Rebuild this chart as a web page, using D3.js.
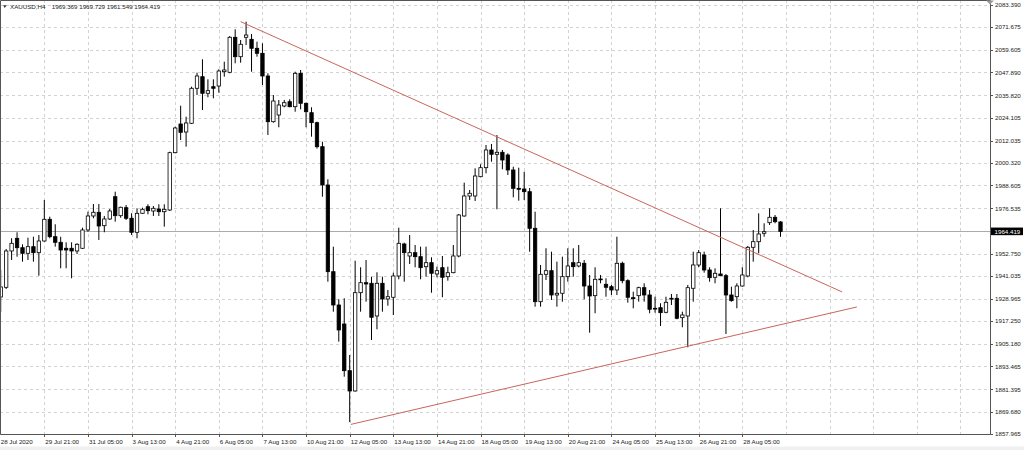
<!DOCTYPE html>
<html>
<head>
<meta charset="utf-8">
<script src="https://cdn.jsdelivr.net/npm/d3@7"></script>
<style>
  html, body { margin: 0; padding: 0; background: #fff; }
  svg { display: block; }
  text { font-family: 'Liberation Sans', Arial, sans-serif; font-size: 6.2px; fill: #222; }
</style>
</head>
<body>
<div id="chart"></div>
<script>
// XAUUSD H4, one entry per bar, oldest first
const opens = [
  1929.95, 1935.04, 1954.11, 1960.78, 1955.84, 1952.90, 1956.37, 1953.22, 1959.36, 1970.76,
  1961.62, 1958.68, 1955.53, 1955.53, 1954.11, 1955.53, 1965.14, 1972.50, 1974.44, 1967.40,
  1970.92, 1982.63, 1972.65, 1976.86, 1971.29, 1963.93, 1973.91, 1977.38, 1975.12, 1976.17,
  1974.75, 1975.65, 2005.75, 2020.82, 2016.62, 2021.19, 2039.58, 2045.67, 2036.95, 2040.42,
  2040.78, 2048.30, 2047.98, 2066.37, 2056.18, 2066.37, 2065.32, 2060.59, 2057.96, 2046.04,
  2022.03, 2025.55, 2030.28, 2032.54, 2029.91, 2047.46, 2031.70, 2026.76, 2021.51, 2008.90,
  1988.78, 1943.24, 1925.74, 1915.76, 1891.23, 1880.57, 1932.20, 1937.46, 1937.14, 1919.97,
  1937.14, 1928.90, 1929.79, 1940.98, 1957.79, 1951.48, 1953.22, 1951.12, 1945.86, 1947.96,
  1942.03, 1945.34, 1940.61, 1942.71, 1951.48, 1972.50, 1983.00, 1983.00, 1993.14, 1997.87,
  2007.17, 2004.91, 2005.96, 2004.54, 1996.66, 1987.05, 1986.68, 1985.26, 1966.03, 1927.48,
  1941.87, 1943.76, 1931.00, 1931.89, 1940.61, 1947.96, 1946.23, 1947.65, 1935.72, 1930.63,
  1939.40, 1936.62, 1935.36, 1933.62, 1947.65, 1938.51, 1929.58, 1930.63, 1934.83, 1931.00,
  1924.01, 1924.32, 1921.91, 1929.26, 1929.26, 1919.07, 1919.97, 1934.52, 1946.76, 1952.01,
  1944.13, 1940.29, 1942.03, 1941.13, 1931.00, 1930.10, 1935.72, 1940.98, 1956.05, 1958.99,
  1963.41, 1968.98, 1971.81, 1969.369
];
const highs = [
  1944.13, 1955.16, 1960.78, 1963.93, 1957.63, 1961.10, 1961.62, 1962.51, 1980.90, 1972.13,
  1968.14, 1961.62, 1958.68, 1958.68, 1958.15, 1966.35, 1974.75, 1978.80, 1978.80, 1972.50,
  1976.17, 1985.26, 1977.38, 1978.27, 1973.91, 1976.54, 1976.86, 1978.64, 1977.75, 1978.64,
  1978.64, 2006.27, 2019.40, 2030.44, 2024.66, 2040.42, 2047.77, 2054.81, 2044.30, 2044.30,
  2049.56, 2053.55, 2067.05, 2070.57, 2064.95, 2074.56, 2068.10, 2064.05, 2063.21, 2047.46,
  2036.06, 2033.43, 2033.43, 2033.80, 2048.30, 2049.19, 2032.01, 2029.60, 2022.03, 2011.52,
  1991.77, 1956.37, 1928.74, 1929.26, 1899.48, 1949.01, 1945.55, 1949.38, 1940.61, 1942.92,
  1940.61, 1933.62, 1942.71, 1966.35, 1958.47, 1962.51, 1957.26, 1956.37, 1956.37, 1950.80,
  1945.86, 1951.48, 1945.86, 1957.26, 1973.55, 1989.99, 1986.15, 1997.55, 1999.65, 2009.79,
  2010.32, 2015.04, 2007.17, 2005.43, 1998.39, 1997.87, 1995.77, 1987.20, 1974.75, 1946.76,
  1955.53, 1953.74, 1948.49, 1951.12, 1955.53, 1955.53, 1957.26, 1949.38, 1941.50, 1945.55,
  1941.50, 1939.77, 1936.25, 1961.62, 1948.49, 1939.24, 1932.73, 1935.36, 1937.14, 1933.62,
  1930.10, 1926.64, 1930.10, 1931.52, 1931.52, 1922.22, 1936.25, 1953.74, 1954.63, 1953.74,
  1945.55, 1945.02, 1976.54, 1942.03, 1935.36, 1937.14, 1945.55, 1956.74, 1965.14, 1973.91,
  1968.66, 1976.54, 1973.02, 1969.729
];
const lows = [
  1922.07, 1934.15, 1949.38, 1951.12, 1948.49, 1949.38, 1948.49, 1941.13, 1958.99, 1960.78,
  1956.37, 1945.02, 1945.02, 1939.77, 1952.53, 1955.16, 1964.25, 1971.29, 1959.89, 1963.93,
  1970.39, 1969.50, 1971.60, 1970.39, 1962.51, 1960.78, 1973.55, 1973.39, 1972.50, 1972.50,
  1966.87, 1975.12, 2005.43, 2012.42, 2008.90, 2020.82, 2036.06, 2028.18, 2034.85, 2034.32,
  2037.26, 2045.67, 2047.46, 2052.71, 2053.02, 2062.32, 2048.30, 2056.18, 2041.31, 2015.04,
  2021.51, 2019.09, 2029.60, 2029.60, 2027.28, 2028.54, 2019.09, 2014.15, 2007.90, 1982.63,
  1937.98, 1922.22, 1906.47, 1888.08, 1864.20, 1880.20, 1922.22, 1927.48, 1907.36, 1912.98,
  1922.22, 1925.38, 1920.49, 1939.24, 1937.98, 1947.28, 1945.55, 1939.24, 1940.61, 1932.20,
  1940.29, 1929.79, 1938.51, 1942.40, 1950.80, 1972.13, 1980.90, 1980.37, 1992.82, 1994.93,
  2001.02, 1976.01, 1997.03, 1994.03, 1982.32, 1980.53, 1980.90, 1953.74, 1924.85, 1924.85,
  1938.88, 1928.37, 1924.85, 1927.48, 1937.98, 1940.61, 1945.55, 1928.74, 1911.19, 1921.38,
  1937.14, 1930.10, 1931.00, 1931.00, 1937.14, 1926.95, 1924.01, 1927.48, 1927.48, 1921.38,
  1921.70, 1914.71, 1921.38, 1925.74, 1918.23, 1914.03, 1903.52, 1927.48, 1945.55, 1942.71,
  1937.98, 1937.14, 1940.98, 1910.51, 1927.48, 1924.01, 1935.36, 1940.29, 1948.49, 1952.90,
  1961.62, 1967.77, 1968.66, 1961.549
];
const closes = [
  1935.20, 1954.11, 1958.15, 1955.84, 1952.90, 1956.37, 1953.22, 1959.36, 1970.76, 1961.62,
  1958.68, 1954.63, 1954.63, 1954.11, 1957.63, 1965.14, 1972.50, 1974.44, 1967.24, 1970.92,
  1975.12, 1972.65, 1977.07, 1971.29, 1963.93, 1973.91, 1976.01, 1975.28, 1976.54, 1974.75,
  1976.01, 2005.75, 2018.72, 2016.46, 2021.35, 2039.58, 2046.04, 2036.95, 2038.32, 2039.58,
  2048.66, 2049.19, 2066.37, 2056.18, 2062.69, 2067.57, 2060.59, 2057.96, 2046.04, 2022.03,
  2032.90, 2030.80, 2032.01, 2029.91, 2047.46, 2031.70, 2027.28, 2021.51, 2008.90, 1988.78,
  1943.24, 1925.74, 1912.61, 1891.23, 1880.57, 1932.20, 1937.46, 1936.77, 1919.28, 1937.14,
  1928.90, 1930.10, 1940.98, 1958.15, 1953.22, 1953.22, 1951.12, 1945.34, 1947.96, 1942.40,
  1943.76, 1940.29, 1942.71, 1951.48, 1973.02, 1983.00, 1984.42, 1993.51, 1997.87, 2007.17,
  2004.91, 2005.96, 2001.91, 1996.66, 1987.05, 1986.52, 1985.26, 1966.03, 1927.48, 1941.87,
  1943.76, 1931.00, 1931.89, 1940.61, 1946.23, 1945.86, 1947.96, 1935.72, 1930.47, 1939.24,
  1939.30, 1935.04, 1933.62, 1947.65, 1938.51, 1929.79, 1929.05, 1934.83, 1931.00, 1923.49,
  1923.64, 1921.70, 1927.16, 1929.20, 1918.76, 1920.49, 1934.83, 1946.76, 1953.22, 1944.13,
  1940.08, 1942.40, 1941.13, 1931.00, 1928.00, 1935.72, 1941.50, 1956.05, 1958.99, 1963.04,
  1964.25, 1971.81, 1969.50, 1964.419
];

// one time label every 8 bars
const timeLabels = [
  '28 Jul 2020', '29 Jul 21:00', '31 Jul 05:00', '3 Aug 13:00', '4 Aug 21:00', '6 Aug 05:00',
  '7 Aug 13:00', '10 Aug 21:00', '12 Aug 05:00', '13 Aug 13:00', '14 Aug 21:00', '18 Aug 05:00',
  '19 Aug 13:00', '20 Aug 21:00', '24 Aug 05:00', '25 Aug 13:00', '26 Aug 21:00', '28 Aug 05:00'
];
const priceTicks = [
  2083.390, 2071.675, 2059.605, 2047.890, 2035.820, 2024.105, 2012.035, 2000.320, 1988.605,
  1976.535, 1964.465, 1952.750, 1941.035, 1928.965, 1917.250, 1905.180, 1893.465, 1881.395,
  1869.680, 1857.965
];
const symbolName = 'XAUUSD,H4';

// trendlines as [bar index, price] anchors
const upperLine = [[44, 2074.6], [154.3, 1932.6]];
const lowerLine = [[64.2, 1863.0], [157, 1924.7]];

const width = 1024;
const height = 450;
const plotRight = 990.5;
const plotBottom = 434.5;
const barsPerLabel = 8;
const bodyWidth = 3.4;
const gridColour = '#d2d2d2';
const lineColour = '#c9655c';

const n = closes.length;
const last = n - 1;

const svg = d3.select('#chart').append('svg')
  .attr('width', width)
  .attr('height', height);

const x = d3.scaleLinear().domain([0, last]).range([0.7, 780.5]);
const y = d3.scaleLinear().domain([1857.965, 2083.39]).range([434.0, 4.9]);

svg.append('rect')
  .attr('x', 0).attr('y', 446.5)
  .attr('width', width).attr('height', 3.5)
  .attr('fill', '#f0f0f0');

const plot = svg.append('g');

// grid
const gridX = d3.range(barsPerLabel, 200, barsPerLabel).filter(i => x(i) < plotRight);
plot.selectAll('line.vgrid')
  .data(gridX)
  .enter()
  .append('line')
  .attr('x1', d => Math.round(x(d)) + 0.5)
  .attr('x2', d => Math.round(x(d)) + 0.5)
  .attr('y1', 0)
  .attr('y2', plotBottom)
  .attr('stroke', gridColour)
  .attr('stroke-dasharray', '3,3');

plot.selectAll('line.hgrid')
  .data(priceTicks)
  .enter()
  .append('line')
  .attr('x1', 0)
  .attr('x2', plotRight)
  .attr('y1', d => Math.round(y(d)) + 0.5)
  .attr('y2', d => Math.round(y(d)) + 0.5)
  .attr('stroke', gridColour)
  .attr('stroke-dasharray', '3,3');

// bid line
const lastPrice = closes[last];
plot.append('line')
  .attr('x1', 0)
  .attr('x2', plotRight)
  .attr('y1', Math.round(y(lastPrice)) + 0.5)
  .attr('y2', Math.round(y(lastPrice)) + 0.5)
  .attr('stroke', '#ababab');

// candles
const bars = d3.range(n);
const candles = plot.selectAll('g.candle')
  .data(bars)
  .enter()
  .append('g');

candles.append('line')
  .attr('x1', i => x(i))
  .attr('x2', i => x(i))
  .attr('y1', i => y(highs[i]))
  .attr('y2', i => y(lows[i]))
  .attr('stroke', '#000')
  .attr('stroke-width', 1);

candles.append('rect')
  .attr('x', i => x(i) - bodyWidth / 2)
  .attr('y', i => y(Math.max(opens[i], closes[i])))
  .attr('width', bodyWidth)
  .attr('height', i => Math.max(0.8, Math.abs(y(opens[i]) - y(closes[i]))))
  .attr('fill', i => closes[i] >= opens[i] ? '#fff' : '#000')
  .attr('stroke', '#000')
  .attr('stroke-width', 0.8);

// trendlines
const trend = d3.line()
  .x(d => x(d[0]))
  .y(d => y(d[1]));

[upperLine, lowerLine].forEach(l => {
  plot.append('path')
    .attr('d', trend(l))
    .attr('fill', 'none')
    .attr('stroke', lineColour)
    .attr('stroke-width', 1);
});

// frame
svg.append('path')
  .attr('d', `M0.5,${plotBottom} V0.5 H${plotRight} V${plotBottom} H0.5`)
  .attr('fill', 'none')
  .attr('stroke', '#555');

svg.append('path')
  .attr('d', 'M986,0.5 L994,0.5 L990,4.5 Z')
  .attr('fill', '#9a9a9a');

// price axis
const priceAxis = svg.append('g');
priceAxis.selectAll('line')
  .data(priceTicks)
  .enter()
  .append('line')
  .attr('x1', plotRight)
  .attr('x2', plotRight + 2.5)
  .attr('y1', d => Math.round(y(d)) + 0.5)
  .attr('y2', d => Math.round(y(d)) + 0.5)
  .attr('stroke', '#555');

priceAxis.selectAll('text')
  .data(priceTicks.filter(d => Math.abs(y(d) - y(lastPrice)) > 6))
  .enter()
  .append('text')
  .attr('x', 995)
  .attr('y', d => y(d) + 2.2)
  .text(d => d3.format('.3f')(d));

priceAxis.append('rect')
  .attr('x', 991)
  .attr('y', y(lastPrice) - 3.8)
  .attr('width', 32)
  .attr('height', 7.6)
  .attr('fill', '#000');

priceAxis.append('text')
  .attr('x', 994.5)
  .attr('y', y(lastPrice) + 2.2)
  .style('fill', '#fff')
  .text(d3.format('.3f')(lastPrice));

// time axis
const timeAxis = svg.append('g');
timeAxis.selectAll('line')
  .data(timeLabels.slice(1))
  .enter()
  .append('line')
  .attr('x1', (d, k) => Math.round(x((k + 1) * barsPerLabel)) + 0.5)
  .attr('x2', (d, k) => Math.round(x((k + 1) * barsPerLabel)) + 0.5)
  .attr('y1', plotBottom)
  .attr('y2', plotBottom + 2.5)
  .attr('stroke', '#555');

timeAxis.selectAll('text')
  .data(timeLabels)
  .enter()
  .append('text')
  .attr('x', (d, k) => k === 0 ? 0.7 : x(k * barsPerLabel) + 1)
  .attr('y', 444)
  .text(d => d);

// title
svg.append('path')
  .attr('d', 'M3,5.3 L6.6,5.3 L4.8,8 Z')
  .attr('fill', '#333');

svg.append('text')
  .attr('x', 10)
  .attr('y', 9)
  .text(symbolName);

svg.append('text')
  .attr('x', 51.7)
  .attr('y', 9)
  .text([opens[last], highs[last], lows[last], closes[last]].map(d3.format('.3f')).join(' '));
</script>
</body>
</html>
